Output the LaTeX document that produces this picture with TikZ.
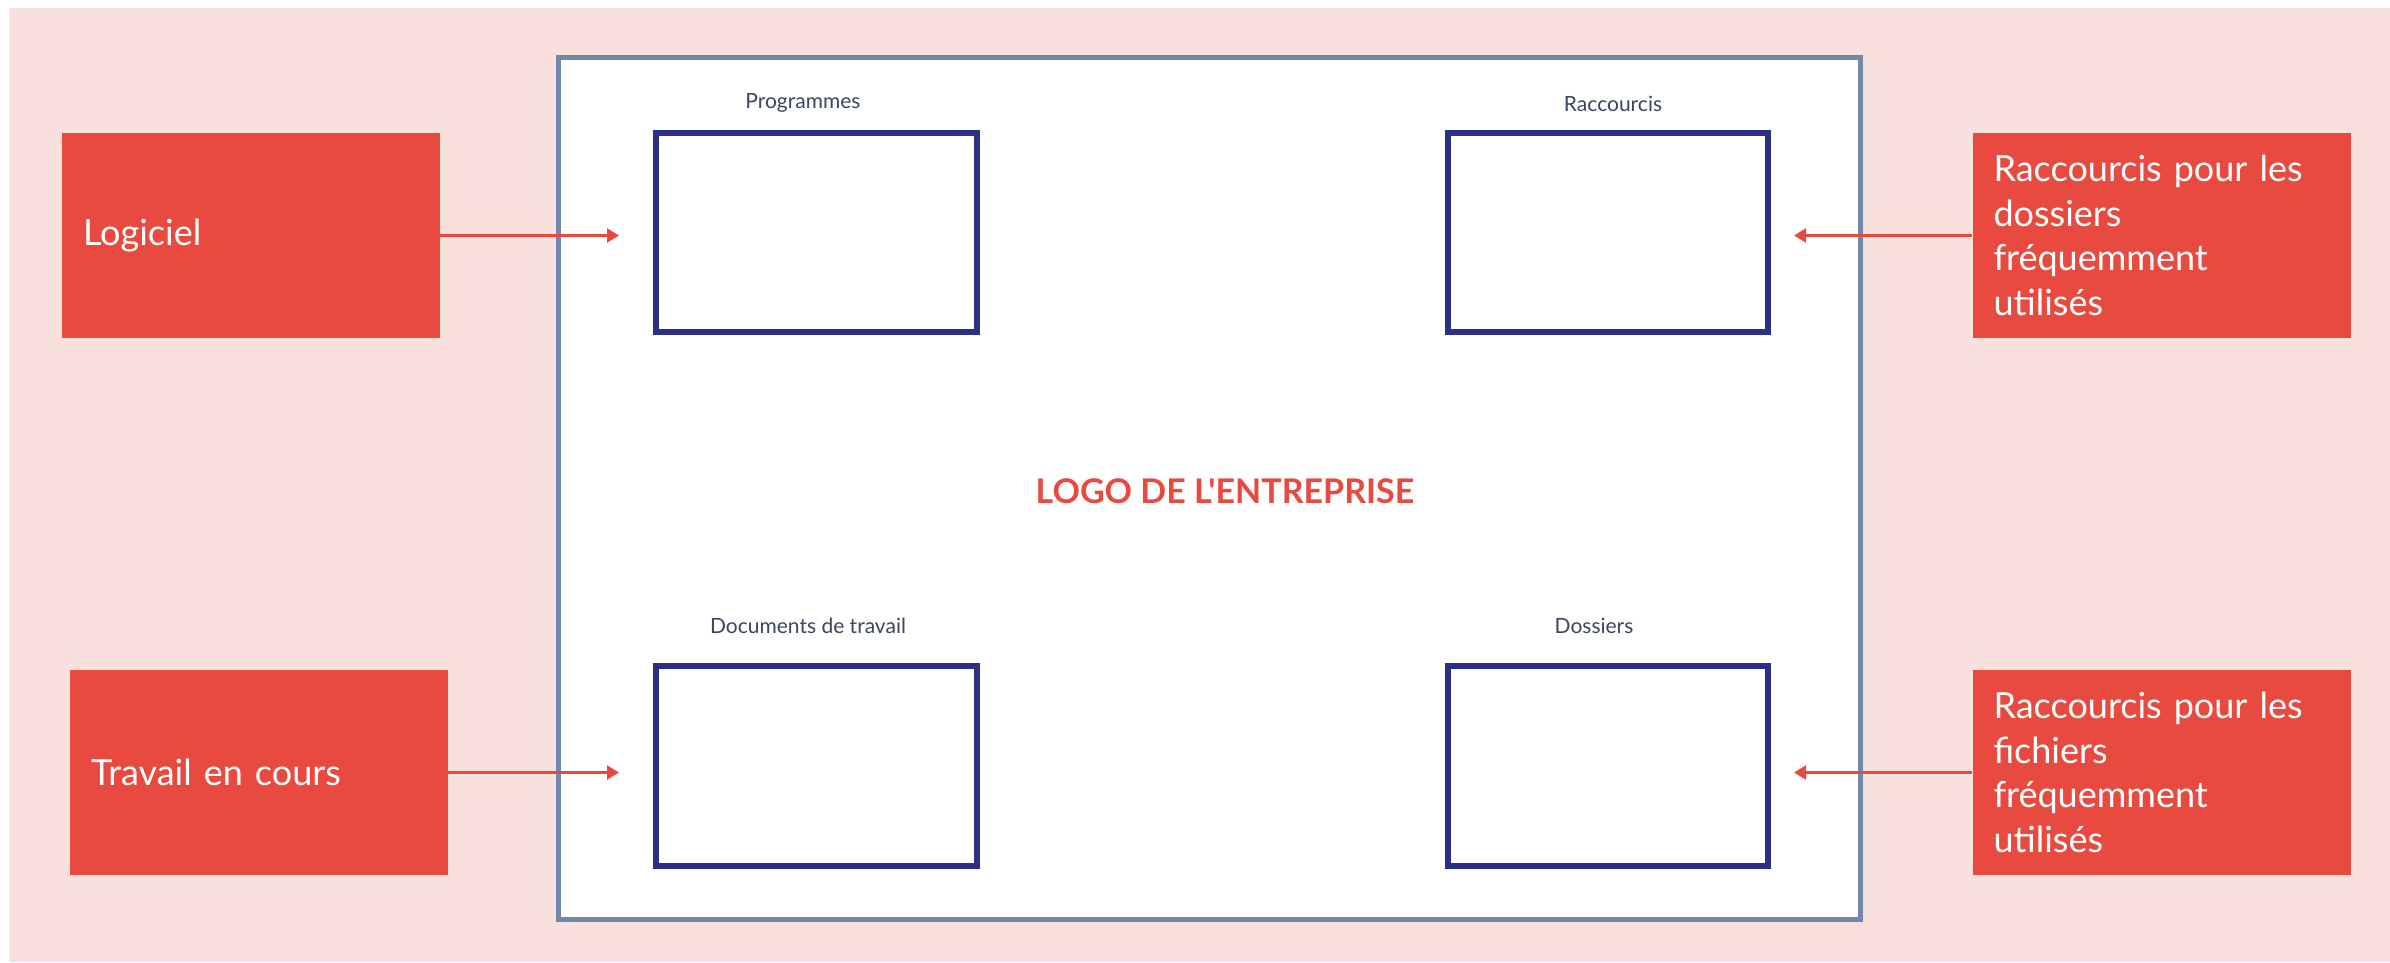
\documentclass[tikz,border=0pt]{standalone}
\usepackage{fontspec}
\setmainfont{Lato}
\newfontfamily\logofont{Lato}[Ligatures=ResetAll]
\usetikzlibrary{arrows.meta}
\definecolor{bgpink}{HTML}{F8E1DC}
\definecolor{boxred}{HTML}{E84A40}
\definecolor{framebl}{HTML}{7386AD}
\definecolor{navy}{HTML}{2B2F85}
\definecolor{lbl}{HTML}{3B4660}
\tikzset{
  redbox/.style={fill=boxred, text=white, minimum width=378pt, minimum height=205pt,
    inner xsep=21pt, inner ysep=0pt, text width=336pt, align=left,
    font=\fontsize{36}{44.5}\selectfont},
  innerbox/.style={draw=navy, line width=6pt, fill=white, inner sep=0pt},
  lbltext/.style={text=lbl, font=\fontsize{21}{25}\selectfont, anchor=base, inner sep=0pt},
  conn/.style={draw=boxred, line width=2.2pt, -{Triangle[length=12pt,width=14pt]}}
}
\begin{document}
\begin{tikzpicture}[x=1pt,y=-1pt]
\useasboundingbox (0,0) rectangle (2390,962);
\fill[white] (0,0) rectangle (2390,962);
\fill[bgpink] (9,8) rectangle (2390,962);
\node[draw=framebl, line width=5pt, fill=white, minimum width=1302pt, minimum height=862pt, inner sep=0pt] (frame) at (1209,488) {};
% inner boxes
\node[innerbox, minimum width=321pt, minimum height=199pt] (prog) at (816.5,232.5) {};
\node[innerbox, minimum width=320pt, minimum height=199pt] (racc) at (1608,232.5) {};
\node[innerbox, minimum width=321pt, minimum height=200pt] (docs) at (816.5,766) {};
\node[innerbox, minimum width=320pt, minimum height=200pt] (doss) at (1608,766) {};
% labels
\node[lbltext] (lprog) at (803,108) {Programmes};
\node[lbltext] (lracc) at (1613,111) {Raccourcis};
\node[lbltext] (ldocs) at (808,633) {Documents de travail};
\node[lbltext] (ldoss) at (1594,633) {Dossiers};
% logo
\node[text=boxred, font=\logofont\fontsize{34}{40}\selectfont\bfseries, anchor=base, inner sep=0pt] (logo) at (1225,503) {LOGO DE L'ENTREPRISE};
% red boxes
\node[redbox] (logi) at (251,235.5) {Logiciel};
\node[redbox] (trav) at (259,772.5) {Travail en cours};
\node[redbox] (rdos) at (2161.5,235.5) {Raccourcis pour les\\dossiers\\fréquemment\\utilisés};
\node[redbox] (rfic) at (2161.5,772.5) {Raccourcis pour les\\fichiers\\fréquemment\\utilisés};
% connectors
\draw[conn, shorten >=34pt] (logi.east) -- (logi.east -| prog.west);
\draw[conn, shorten >=34pt] (trav.east) -- (trav.east -| docs.west);
\draw[conn, shorten >=23pt] (rdos.west) -- (rdos.west -| racc.east);
\draw[conn, shorten >=23pt] (rfic.west) -- (rfic.west -| doss.east);
\end{tikzpicture}
\end{document}
